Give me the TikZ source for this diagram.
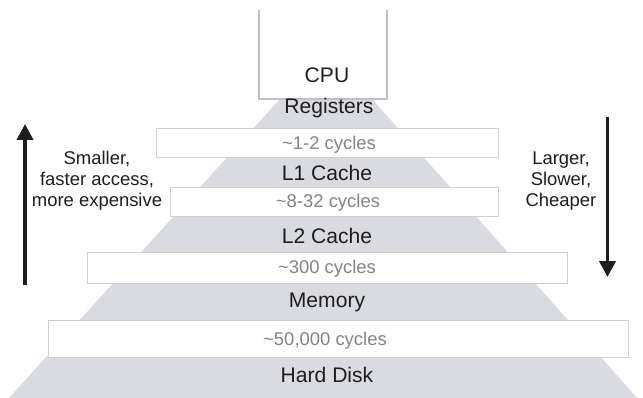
\documentclass[tikz,border=0pt]{standalone}
\usepackage{fontspec}
\setmainfont{Liberation Sans}
\usetikzlibrary{arrows.meta}

\definecolor{pyrgray}{RGB}{218,219,224}
\definecolor{bandline}{RGB}{208,208,208}
\definecolor{boxline}{RGB}{192,192,192}
\definecolor{cyclegray}{RGB}{132,132,132}
\definecolor{darktext}{RGB}{30,30,30}

\tikzset{
  level/.style={text=darktext,font=\fontsize{12}{14}\selectfont,inner sep=0pt,anchor=base},
  cycles/.style={text=cyclegray,font=\fontsize{10.5}{12}\selectfont,inner sep=0pt,anchor=base},
  band/.style={draw=bandline,fill=white,line width=0.5pt,inner sep=0pt,minimum height=#1},
  sidetext/.style={text=darktext,align=center,font=\fontsize{10.5}{12}\selectfont,inner sep=0pt},
  bigarrow/.style={draw=darktext,line width=2.2pt,-{Triangle[length=9pt,width=9pt]}}
}

\begin{document}
\begin{tikzpicture}[x=0.02cm,y=-0.02cm]
  \useasboundingbox (0,0) rectangle (643,398);

  % the pyramid behind everything
  \fill[pyrgray] (280,99) -- (372,99) -- (637,398) -- (9,398) -- cycle;

  % cpu box, open at the top
  \draw[boxline,line width=0.6pt] (259,10) -- (259,99) -- (387,99) -- (387,10);

  % white bands with the latencies
  \node[band=0.58cm,minimum width=6.84cm] (band1) at (327,142.5) {};
  \node[band=0.58cm,minimum width=6.56cm] (band2) at (334,201.5) {};
  \node[band=0.62cm,minimum width=9.6cm] (band3) at (327,267.5) {};
  \node[band=0.74cm,minimum width=11.6cm] (band4) at (338,338.5) {};

  \node[cycles] (cyc1) at (329,150) {\textasciitilde 1-2 cycles};
  \node[cycles] (cyc2) at (328,208) {\textasciitilde 8-32 cycles};
  \node[cycles] (cyc3) at (327,274) {\textasciitilde 300 cycles};
  \node[cycles] (cyc4) at (325,346) {\textasciitilde 50,000 cycles};

  % levels of the hierarchy
  \node[level] (cpu) at (327,83) {CPU};
  \node[level] (regs) at (329,114) {Registers};
  \node[level] (lone) at (327,181) {L1 Cache};
  \node[level] (ltwo) at (327,244) {L2 Cache};
  \node[level] (mem) at (327,308) {Memory};
  \node[level] (disk) at (327,383) {Hard Disk};

  % side arrows and notes
  \coordinate (upbot) at (25,285);
  \coordinate (uptop) at (25,124);
  \draw[bigarrow] (upbot) -- (uptop);
  \node[sidetext] (small) at (97,181) {Smaller,\\faster access,\\more expensive};

  \coordinate (downtop) at (607.5,117);
  \coordinate (downbot) at (607.5,277);
  \draw[bigarrow] (downtop) -- (downbot);
  \node[sidetext] (large) at (561,181) {Larger,\\Slower,\\Cheaper};
\end{tikzpicture}
\end{document}
